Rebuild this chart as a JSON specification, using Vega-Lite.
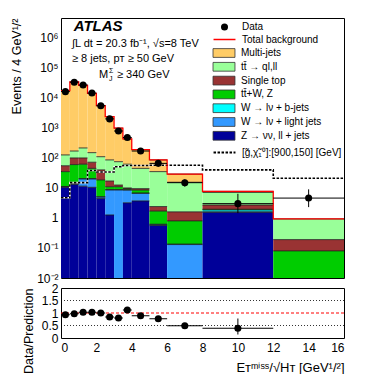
{
  "$schema": "https://vega.github.io/schema/vega-lite/v6.json",
  "padding": {"left": 10, "top": 13, "right": 5, "bottom": 0},
  "config": {
    "font": "Liberation Sans",
    "view": {"stroke": "#000000", "strokeWidth": 1},
    "axis": {"grid": false, "domain": false, "tickColor": "#000000", "labelColor": "#000000", "titleColor": "#000000", "labelFont": "Liberation Sans", "titleFont": "Liberation Sans", "labelFontSize": 12, "titleFontSize": 12.5, "titleFontWeight": "normal", "tickSize": 0, "tickWidth": 1, "labelOverlap": false},
    "legend": {"title": null, "orient": "none", "padding": 0, "labelFont": "Liberation Sans", "labelFontSize": 10, "labelColor": "#000000", "rowPadding": 4, "labelLimit": 200}
  },
  "datasets": {
    "comp": [
      {"bin": 1, "xlo": 0, "xhi": 0.5, "proc": "Z → νν, ll + jets", "ord": 1, "v": 10.5},
      {"bin": 1, "xlo": 0, "xhi": 0.5, "proc": "W → lν + light jets", "ord": 2, "v": 0.5},
      {"bin": 1, "xlo": 0, "xhi": 0.5, "proc": "W → lν + b-jets", "ord": 3, "v": 0.2},
      {"bin": 1, "xlo": 0, "xhi": 0.5, "proc": "tt̄+W, Z", "ord": 4, "v": 23.8},
      {"bin": 1, "xlo": 0, "xhi": 0.5, "proc": "Single top", "ord": 5, "v": 20},
      {"bin": 1, "xlo": 0, "xhi": 0.5, "proc": "tt̄ → ql,ll", "ord": 6, "v": 71},
      {"bin": 1, "xlo": 0, "xhi": 0.5, "proc": "Multi-jets", "ord": 7, "v": 17274},
      {"bin": 2, "xlo": 0.5, "xhi": 1, "proc": "Z → νν, ll + jets", "ord": 1, "v": 13},
      {"bin": 2, "xlo": 0.5, "xhi": 1, "proc": "W → lν + light jets", "ord": 2, "v": 1},
      {"bin": 2, "xlo": 0.5, "xhi": 1, "proc": "W → lν + b-jets", "ord": 3, "v": 0.3},
      {"bin": 2, "xlo": 0.5, "xhi": 1, "proc": "tt̄+W, Z", "ord": 4, "v": 45.7},
      {"bin": 2, "xlo": 0.5, "xhi": 1, "proc": "Single top", "ord": 5, "v": 40},
      {"bin": 2, "xlo": 0.5, "xhi": 1, "proc": "tt̄ → ql,ll", "ord": 6, "v": 70},
      {"bin": 2, "xlo": 0.5, "xhi": 1, "proc": "Multi-jets", "ord": 7, "v": 34230},
      {"bin": 3, "xlo": 1, "xhi": 1.5, "proc": "Z → νν, ll + jets", "ord": 1, "v": 11.5},
      {"bin": 3, "xlo": 1, "xhi": 1.5, "proc": "W → lν + light jets", "ord": 2, "v": 8.5},
      {"bin": 3, "xlo": 1, "xhi": 1.5, "proc": "W → lν + b-jets", "ord": 3, "v": 0.5},
      {"bin": 3, "xlo": 1, "xhi": 1.5, "proc": "tt̄+W, Z", "ord": 4, "v": 41.5},
      {"bin": 3, "xlo": 1, "xhi": 1.5, "proc": "Single top", "ord": 5, "v": 38},
      {"bin": 3, "xlo": 1, "xhi": 1.5, "proc": "tt̄ → ql,ll", "ord": 6, "v": 115},
      {"bin": 3, "xlo": 1, "xhi": 1.5, "proc": "Multi-jets", "ord": 7, "v": 25985},
      {"bin": 4, "xlo": 1.5, "xhi": 2, "proc": "Z → νν, ll + jets", "ord": 1, "v": 10.5},
      {"bin": 4, "xlo": 1.5, "xhi": 2, "proc": "W → lν + light jets", "ord": 2, "v": 9.5},
      {"bin": 4, "xlo": 1.5, "xhi": 2, "proc": "W → lν + b-jets", "ord": 3, "v": 0.5},
      {"bin": 4, "xlo": 1.5, "xhi": 2, "proc": "tt̄+W, Z", "ord": 4, "v": 24.5},
      {"bin": 4, "xlo": 1.5, "xhi": 2, "proc": "Single top", "ord": 5, "v": 27},
      {"bin": 4, "xlo": 1.5, "xhi": 2, "proc": "tt̄ → ql,ll", "ord": 6, "v": 78},
      {"bin": 4, "xlo": 1.5, "xhi": 2, "proc": "Multi-jets", "ord": 7, "v": 13950},
      {"bin": 5, "xlo": 2, "xhi": 2.5, "proc": "Z → νν, ll + jets", "ord": 1, "v": 4.5},
      {"bin": 5, "xlo": 2, "xhi": 2.5, "proc": "W → lν + light jets", "ord": 2, "v": 0.5},
      {"bin": 5, "xlo": 2, "xhi": 2.5, "proc": "W → lν + b-jets", "ord": 3, "v": 0.1},
      {"bin": 5, "xlo": 2, "xhi": 2.5, "proc": "tt̄+W, Z", "ord": 4, "v": 13.4},
      {"bin": 5, "xlo": 2, "xhi": 2.5, "proc": "Single top", "ord": 5, "v": 21.5},
      {"bin": 5, "xlo": 2, "xhi": 2.5, "proc": "tt̄ → ql,ll", "ord": 6, "v": 70},
      {"bin": 5, "xlo": 2, "xhi": 2.5, "proc": "Multi-jets", "ord": 7, "v": 5390},
      {"bin": 6, "xlo": 2.5, "xhi": 3, "proc": "Z → νν, ll + jets", "ord": 1, "v": 1.26},
      {"bin": 6, "xlo": 2.5, "xhi": 3, "proc": "W → lν + light jets", "ord": 2, "v": 7.34},
      {"bin": 6, "xlo": 2.5, "xhi": 3, "proc": "W → lν + b-jets", "ord": 3, "v": 0.2},
      {"bin": 6, "xlo": 2.5, "xhi": 3, "proc": "tt̄+W, Z", "ord": 4, "v": 2.2},
      {"bin": 6, "xlo": 2.5, "xhi": 3, "proc": "Single top", "ord": 5, "v": 6},
      {"bin": 6, "xlo": 2.5, "xhi": 3, "proc": "tt̄ → ql,ll", "ord": 6, "v": 69},
      {"bin": 6, "xlo": 2.5, "xhi": 3, "proc": "Multi-jets", "ord": 7, "v": 2294},
      {"bin": 7, "xlo": 3, "xhi": 3.5, "proc": "W → lν + light jets", "ord": 2, "v": 8.6},
      {"bin": 7, "xlo": 3, "xhi": 3.5, "proc": "W → lν + b-jets", "ord": 3, "v": 0.2},
      {"bin": 7, "xlo": 3, "xhi": 3.5, "proc": "tt̄+W, Z", "ord": 4, "v": 2.2},
      {"bin": 7, "xlo": 3, "xhi": 3.5, "proc": "Single top", "ord": 5, "v": 1.5},
      {"bin": 7, "xlo": 3, "xhi": 3.5, "proc": "tt̄ → ql,ll", "ord": 6, "v": 62.5},
      {"bin": 7, "xlo": 3, "xhi": 3.5, "proc": "Multi-jets", "ord": 7, "v": 915},
      {"bin": 8, "xlo": 3.5, "xhi": 4, "proc": "Z → νν, ll + jets", "ord": 1, "v": 3.2},
      {"bin": 8, "xlo": 3.5, "xhi": 4, "proc": "W → lν + light jets", "ord": 2, "v": 5.3},
      {"bin": 8, "xlo": 3.5, "xhi": 4, "proc": "W → lν + b-jets", "ord": 3, "v": 0.2},
      {"bin": 8, "xlo": 3.5, "xhi": 4, "proc": "tt̄+W, Z", "ord": 4, "v": 0.8},
      {"bin": 8, "xlo": 3.5, "xhi": 4, "proc": "Single top", "ord": 5, "v": 0.5},
      {"bin": 8, "xlo": 3.5, "xhi": 4, "proc": "tt̄ → ql,ll", "ord": 6, "v": 52},
      {"bin": 8, "xlo": 3.5, "xhi": 4, "proc": "Multi-jets", "ord": 7, "v": 368},
      {"bin": 9, "xlo": 4, "xhi": 5, "proc": "Z → νν, ll + jets", "ord": 1, "v": 3.7},
      {"bin": 9, "xlo": 4, "xhi": 5, "proc": "W → lν + light jets", "ord": 2, "v": 2.9},
      {"bin": 9, "xlo": 4, "xhi": 5, "proc": "W → lν + b-jets", "ord": 3, "v": 0.2},
      {"bin": 9, "xlo": 4, "xhi": 5, "proc": "tt̄+W, Z", "ord": 4, "v": 1.7},
      {"bin": 9, "xlo": 4, "xhi": 5, "proc": "Single top", "ord": 5, "v": 1},
      {"bin": 9, "xlo": 4, "xhi": 5, "proc": "tt̄ → ql,ll", "ord": 6, "v": 35.5},
      {"bin": 9, "xlo": 4, "xhi": 5, "proc": "Multi-jets", "ord": 7, "v": 145},
      {"bin": 10, "xlo": 5, "xhi": 6, "proc": "Z → νν, ll + jets", "ord": 1, "v": 0.56},
      {"bin": 10, "xlo": 5, "xhi": 6, "proc": "W → lν + light jets", "ord": 2, "v": 0.04},
      {"bin": 10, "xlo": 5, "xhi": 6, "proc": "W → lν + b-jets", "ord": 3, "v": 0.02},
      {"bin": 10, "xlo": 5, "xhi": 6, "proc": "tt̄+W, Z", "ord": 4, "v": 1.08},
      {"bin": 10, "xlo": 5, "xhi": 6, "proc": "Single top", "ord": 5, "v": 0.7},
      {"bin": 10, "xlo": 5, "xhi": 6, "proc": "tt̄ → ql,ll", "ord": 6, "v": 32.6},
      {"bin": 10, "xlo": 5, "xhi": 6, "proc": "Multi-jets", "ord": 7, "v": 51},
      {"bin": 11, "xlo": 6, "xhi": 8, "proc": "W → lν + light jets", "ord": 2, "v": 0.13},
      {"bin": 11, "xlo": 6, "xhi": 8, "proc": "W → lν + b-jets", "ord": 3, "v": 0.005},
      {"bin": 11, "xlo": 6, "xhi": 8, "proc": "tt̄+W, Z", "ord": 4, "v": 0.665},
      {"bin": 11, "xlo": 6, "xhi": 8, "proc": "Single top", "ord": 5, "v": 0.8},
      {"bin": 11, "xlo": 6, "xhi": 8, "proc": "tt̄ → ql,ll", "ord": 6, "v": 13.9},
      {"bin": 11, "xlo": 6, "xhi": 8, "proc": "Multi-jets", "ord": 7, "v": 13.5},
      {"bin": 12, "xlo": 8, "xhi": 12, "proc": "Z → νν, ll + jets", "ord": 1, "v": 1.55},
      {"bin": 12, "xlo": 8, "xhi": 12, "proc": "W → lν + light jets", "ord": 2, "v": 0.05},
      {"bin": 12, "xlo": 8, "xhi": 12, "proc": "W → lν + b-jets", "ord": 3, "v": 0.25},
      {"bin": 12, "xlo": 8, "xhi": 12, "proc": "tt̄+W, Z", "ord": 4, "v": 0.1},
      {"bin": 12, "xlo": 8, "xhi": 12, "proc": "Single top", "ord": 5, "v": 0.75},
      {"bin": 12, "xlo": 8, "xhi": 12, "proc": "tt̄ → ql,ll", "ord": 6, "v": 4.4},
      {"bin": 12, "xlo": 8, "xhi": 12, "proc": "Multi-jets", "ord": 7, "v": 0.6},
      {"bin": 13, "xlo": 12, "xhi": 16, "proc": "tt̄+W, Z", "ord": 4, "v": 0.08},
      {"bin": 13, "xlo": 12, "xhi": 16, "proc": "Single top", "ord": 5, "v": 0.11},
      {"bin": 13, "xlo": 12, "xhi": 16, "proc": "tt̄ → ql,ll", "ord": 6, "v": 0.74}
    ],
    "edges": [
      {"x": 0, "total": 17400, "sig": 4.7},
      {"x": 0.5, "total": 34400, "sig": 15},
      {"x": 1, "total": 26200, "sig": 15},
      {"x": 1.5, "total": 14100, "sig": 38},
      {"x": 2, "total": 5500, "sig": 34},
      {"x": 2.5, "total": 2380, "sig": 34},
      {"x": 3, "total": 990, "sig": 51},
      {"x": 3.5, "total": 430, "sig": 56},
      {"x": 4, "total": 190, "sig": 56},
      {"x": 5, "total": 86, "sig": 57},
      {"x": 6, "total": 29, "sig": 57},
      {"x": 8, "total": 7.7, "sig": 40},
      {"x": 12, "total": 0.93, "sig": 21},
      {"x": 16, "total": 0.93, "sig": 21}
    ],
    "obs": [
      {"xc": 0.25, "xlo": 0, "xhi": 0.5, "n": 16200, "lo": 16073, "hi": 16327, "r": 0.93, "rlo": 0.92, "rhi": 0.94},
      {"xc": 0.75, "xlo": 0.5, "xhi": 1, "n": 33400, "lo": 33217, "hi": 33583, "r": 0.97, "rlo": 0.96, "rhi": 0.98},
      {"xc": 1.25, "xlo": 1, "xhi": 1.5, "n": 27000, "lo": 26836, "hi": 27164, "r": 1.03, "rlo": 1.02, "rhi": 1.04},
      {"xc": 1.75, "xlo": 1.5, "xhi": 2, "n": 14500, "lo": 14380, "hi": 14620, "r": 1.03, "rlo": 1.02, "rhi": 1.04},
      {"xc": 2.25, "xlo": 2, "xhi": 2.5, "n": 5500, "lo": 5426, "hi": 5574, "r": 1.0, "rlo": 0.98, "rhi": 1.02},
      {"xc": 2.75, "xlo": 2.5, "xhi": 3, "n": 2000, "lo": 1955, "hi": 2045, "r": 0.84, "rlo": 0.82, "rhi": 0.86},
      {"xc": 3.25, "xlo": 3, "xhi": 3.5, "n": 790, "lo": 762, "hi": 818, "r": 0.8, "rlo": 0.77, "rhi": 0.83},
      {"xc": 3.75, "xlo": 3.5, "xhi": 4, "n": 480, "lo": 458, "hi": 502, "r": 1.12, "rlo": 1.07, "rhi": 1.17},
      {"xc": 4.5, "xlo": 4, "xhi": 5, "n": 170, "lo": 157, "hi": 183, "r": 0.89, "rlo": 0.82, "rhi": 0.96},
      {"xc": 5.5, "xlo": 5, "xhi": 6, "n": 66, "lo": 58, "hi": 74, "r": 0.77, "rlo": 0.68, "rhi": 0.86},
      {"xc": 7, "xlo": 6, "xhi": 8, "n": 15, "lo": 11, "hi": 19.5, "r": 0.49, "rlo": 0.4, "rhi": 0.58},
      {"xc": 10, "xlo": 8, "xhi": 12, "n": 3, "lo": 1.45, "hi": 6.4, "r": 0.39, "rlo": 0.14, "rhi": 0.78},
      {"xc": 14, "xlo": 12, "xhi": 16, "n": 4.6, "lo": 2.3, "hi": 9, "r": null, "rlo": null, "rhi": null}
    ]
  },
  "resolve": {"legend": {"fill": "independent", "shape": "independent", "stroke": "independent", "strokeDash": "independent"}},
  "spacing": -4,
  "vconcat": [
    {
      "width": 283,
      "height": 260,
      "resolve": {"axis": {"x": "independent", "y": "independent"}},
      "layer": [
        {
          "data": {"name": "comp"},
          "transform": [{"stack": "v", "groupby": ["bin"], "sort": [{"field": "ord", "order": "ascending"}], "as": ["y0", "y1"]}],
          "mark": {"type": "rect", "clip": true},
          "encoding": {
            "x": {"field": "xlo", "type": "quantitative", "scale": {"domain": [0, 16], "nice": false, "zero": false},
              "axis": {"values": [0,0.5,1,1.5,2,2.5,3,3.5,4,4.5,5,5.5,6,6.5,7,7.5,8,8.5,9,9.5,10,10.5,11,11.5,12,12.5,13,13.5,14,14.5,15,15.5,16], "labels": false, "title": null, "tickSize": 0, "minExtent": 0, "maxExtent": 0,
                "encode": {"ticks": {"update": {"y2": {"signal": "abs(datum.value/2-round(datum.value/2))<0.001 ? -8 : -4"}}}}}},
            "x2": {"field": "xhi"},
            "y": {"field": "y1", "type": "quantitative", "scale": {"type": "log", "domain": [0.01, 4600000], "clamp": true, "nice": false},
              "axis": {"values": [0.01,0.02,0.03,0.04,0.05,0.06,0.07,0.08,0.09,0.1,0.2,0.3,0.4,0.5,0.6,0.7,0.8,0.9,1,2,3,4,5,6,7,8,9,10,20,30,40,50,60,70,80,90,100,200,300,400,500,600,700,800,900,1000,2000,3000,4000,5000,6000,7000,8000,9000,10000,20000,30000,40000,50000,60000,70000,80000,90000,100000,200000,300000,400000,500000,600000,700000,800000,900000,1000000,2000000,3000000,4000000],
                "labelExpr": "abs(log(datum.value)/LN10-round(log(datum.value)/LN10))>0.001 ? '' : ['10⁻²','10⁻¹','1','10','10²','10³','10⁴','10⁵','10⁶'][round(log(datum.value)/LN10)+2]",
                "title": "Events / 4 GeV¹/²", "titleAnchor": "end", "titlePadding": 13, "labelPadding": 3, "tickSize": 0,
                "encode": {"ticks": {"update": {"x2": {"signal": "abs(log(datum.value)/LN10-round(log(datum.value)/LN10))<0.001 ? 8 : 4"}}}}}},
            "y2": {"field": "y0"},
            "fill": {"field": "proc", "type": "nominal",
              "scale": {"domain": ["Multi-jets", "tt̄ → ql,ll", "Single top", "tt̄+W, Z", "W → lν + b-jets", "W → lν + light jets", "Z → νν, ll + jets"],
                "range": ["#ffcc66", "#99ff99", "#993333", "#00cc00", "#00ffff", "#3399ff", "#000099"]},
              "legend": {"legendX": 158, "legendY": 30, "rowPadding": 1.8, "symbolType": "M-2.5,-1H2.5V1H-2.5Z", "symbolSize": 77, "labelOffset": 12, "symbolStrokeColor": "#333333", "symbolStrokeWidth": 0.8}}
          }
        },
        {
          "data": {"name": "comp"},
          "transform": [{"stack": "v", "groupby": ["bin"], "sort": [{"field": "ord", "order": "ascending"}], "as": ["y0", "y1"]}],
          "mark": {"type": "rule", "stroke": "#1a1a1a", "strokeWidth": 0.8, "clip": true},
          "encoding": {
            "x": {"field": "xlo", "type": "quantitative", "axis": null},
            "x2": {"field": "xhi"},
            "y": {"field": "y1", "type": "quantitative", "axis": null}
          }
        },
        {
          "data": {"name": "edges"},
          "mark": {"type": "line", "interpolate": "step-after", "stroke": "#ffffff", "strokeWidth": 1.6, "clip": true},
          "encoding": {
            "x": {"field": "x", "type": "quantitative", "axis": null},
            "y": {"field": "sig", "type": "quantitative", "axis": null}
          }
        },
        {
          "data": {"name": "edges"},
          "mark": {"type": "line", "interpolate": "step-after", "color": "#000000", "stroke": "#000000", "strokeWidth": 1.6, "clip": true},
          "encoding": {
            "x": {"field": "x", "type": "quantitative", "axis": null},
            "y": {"field": "sig", "type": "quantitative", "axis": null},
            "strokeDash": {"datum": "[g̃,χ̃₁⁰]:[900,150] [GeV]", "type": "nominal", "scale": {"range": [[2.5, 1.5]]},
              "legend": {"legendX": 158, "legendY": 129, "symbolType": "M-2.5,0H2.5", "symbolSize": 77, "labelOffset": 12, "symbolStrokeColor": "#000000", "symbolStrokeWidth": 2}}
          }
        },
        {
          "data": {"name": "edges"},
          "mark": {"type": "line", "interpolate": "step-after", "strokeWidth": 1.3, "clip": true},
          "encoding": {
            "x": {"field": "x", "type": "quantitative",
              "axis": {"orient": "top", "values": [0,0.5,1,1.5,2,2.5,3,3.5,4,4.5,5,5.5,6,6.5,7,7.5,8,8.5,9,9.5,10,10.5,11,11.5,12,12.5,13,13.5,14,14.5,15,15.5,16], "labels": false, "title": null, "tickSize": 0,
                "encode": {"ticks": {"update": {"y2": {"signal": "abs(datum.value/2-round(datum.value/2))<0.001 ? 8 : 4"}}}}}},
            "y": {"field": "total", "type": "quantitative",
              "axis": {"orient": "right", "values": [0.01,0.02,0.03,0.04,0.05,0.06,0.07,0.08,0.09,0.1,0.2,0.3,0.4,0.5,0.6,0.7,0.8,0.9,1,2,3,4,5,6,7,8,9,10,20,30,40,50,60,70,80,90,100,200,300,400,500,600,700,800,900,1000,2000,3000,4000,5000,6000,7000,8000,9000,10000,20000,30000,40000,50000,60000,70000,80000,90000,100000,200000,300000,400000,500000,600000,700000,800000,900000,1000000,2000000,3000000,4000000],
                "labels": false, "title": null, "tickSize": 0,
                "encode": {"ticks": {"update": {"x2": {"signal": "abs(log(datum.value)/LN10-round(log(datum.value)/LN10))<0.001 ? -8 : -4"}}}}}},
            "stroke": {"datum": "Total background", "type": "nominal", "scale": {"range": ["#ff0000"]},
              "legend": {"legendX": 158, "legendY": 16, "symbolType": "M-2.5,0H2.5", "symbolSize": 77, "labelOffset": 12, "symbolStrokeWidth": 1.5}}
          }
        },
        {
          "data": {"name": "obs"},
          "mark": {"type": "rule", "stroke": "#000000", "strokeWidth": 1},
          "encoding": {
            "x": {"field": "xlo", "type": "quantitative", "axis": null},
            "x2": {"field": "xhi"},
            "y": {"field": "n", "type": "quantitative", "axis": null}
          }
        },
        {
          "data": {"name": "obs"},
          "mark": {"type": "rule", "stroke": "#000000", "strokeWidth": 1},
          "encoding": {
            "x": {"field": "xc", "type": "quantitative", "axis": null},
            "y": {"field": "lo", "type": "quantitative", "axis": null},
            "y2": {"field": "hi"}
          }
        },
        {
          "data": {"name": "obs"},
          "mark": {"type": "point", "filled": true, "color": "#000000", "fill": "#000000", "opacity": 1, "size": 50},
          "encoding": {
            "x": {"field": "xc", "type": "quantitative", "axis": null},
            "y": {"field": "n", "type": "quantitative", "axis": null},
            "shape": {"datum": "Data", "type": "nominal", "scale": {"range": ["circle"]},
              "legend": {"legendX": 158.5, "legendY": 4, "symbolSize": 49, "labelOffset": 12.5, "symbolFillColor": "#000000", "symbolStrokeColor": "#000000"}}
          }
        },
        {
          "data": {"values": [{}]},
          "mark": {"type": "text", "text": "ATLAS", "font": "Liberation Sans", "fontSize": 15, "fontWeight": "bold", "fontStyle": "italic", "align": "left", "baseline": "middle", "color": "#000000"},
          "encoding": {"x": {"datum": 0.72, "type": "quantitative", "axis": null}, "y": {"datum": 2500000, "type": "quantitative", "axis": null}}
        },
        {
          "data": {"values": [{}]},
          "mark": {"type": "text", "text": "∫L dt = 20.3 fb⁻¹, √s=8 TeV", "font": "Liberation Sans", "fontSize": 11, "align": "left", "baseline": "middle", "color": "#000000"},
          "encoding": {"x": {"datum": 0.62, "type": "quantitative", "axis": null}, "y": {"datum": 650000, "type": "quantitative", "axis": null}}
        },
        {
          "data": {"values": [{}]},
          "mark": {"type": "text", "text": "≥ 8 jets, pᴛ ≥ 50 GeV", "font": "Liberation Sans", "fontSize": 11, "align": "left", "baseline": "middle", "color": "#000000"},
          "encoding": {"x": {"datum": 0.62, "type": "quantitative", "axis": null}, "y": {"datum": 200000, "type": "quantitative", "axis": null}}
        },
        {
          "data": {"values": [{}]},
          "mark": {"type": "text", "text": "M", "font": "Liberation Sans", "fontSize": 11, "align": "left", "baseline": "middle", "color": "#000000"},
          "encoding": {"x": {"datum": 2.15, "type": "quantitative", "axis": null}, "y": {"datum": 58000, "type": "quantitative", "axis": null}}
        },
        {
          "data": {"values": [{}]},
          "mark": {"type": "text", "text": "Σ", "font": "Liberation Sans", "fontSize": 7, "align": "left", "baseline": "middle", "dx": 10, "dy": -4, "color": "#000000"},
          "encoding": {"x": {"datum": 2.15, "type": "quantitative", "axis": null}, "y": {"datum": 58000, "type": "quantitative", "axis": null}}
        },
        {
          "data": {"values": [{}]},
          "mark": {"type": "text", "text": "J", "font": "Liberation Sans", "fontSize": 7, "align": "left", "baseline": "middle", "dx": 10, "dy": 4, "color": "#000000"},
          "encoding": {"x": {"datum": 2.15, "type": "quantitative", "axis": null}, "y": {"datum": 58000, "type": "quantitative", "axis": null}}
        },
        {
          "data": {"values": [{}]},
          "mark": {"type": "text", "text": "≥ 340 GeV", "font": "Liberation Sans", "fontSize": 11, "align": "left", "baseline": "middle", "dx": 18, "color": "#000000"},
          "encoding": {"x": {"datum": 2.15, "type": "quantitative", "axis": null}, "y": {"datum": 58000, "type": "quantitative", "axis": null}}
        }
      ]
    },
    {
      "width": 283,
      "height": 50,
      "resolve": {"axis": {"x": "independent", "y": "independent"}},
      "layer": [
        {
          "data": {"values": [{}]},
          "mark": {"type": "rule", "stroke": "#000000", "strokeWidth": 0.8, "strokeDash": [1, 2]},
          "encoding": {"y": {"datum": 0.5, "type": "quantitative", "axis": null}}
        },
        {
          "data": {"values": [{}]},
          "mark": {"type": "rule", "stroke": "#000000", "strokeWidth": 0.8, "strokeDash": [1, 2]},
          "encoding": {"y": {"datum": 1.5, "type": "quantitative", "axis": null}}
        },
        {
          "data": {"values": [{}]},
          "mark": {"type": "rule", "stroke": "#ff0000", "strokeWidth": 1.2, "strokeDash": [3, 2]},
          "encoding": {"y": {"datum": 1, "type": "quantitative", "axis": null}}
        },
        {
          "data": {"name": "obs"},
          "transform": [{"filter": "datum.r != null"}],
          "mark": {"type": "rule", "stroke": "#000000", "strokeWidth": 1},
          "encoding": {
            "x": {"field": "xlo", "type": "quantitative",
              "axis": {"orient": "top", "values": [0,0.5,1,1.5,2,2.5,3,3.5,4,4.5,5,5.5,6,6.5,7,7.5,8,8.5,9,9.5,10,10.5,11,11.5,12,12.5,13,13.5,14,14.5,15,15.5,16], "labels": false, "title": null, "tickSize": 0, "minExtent": 0, "maxExtent": 0,
                "encode": {"ticks": {"update": {"y2": {"signal": "abs(datum.value/2-round(datum.value/2))<0.001 ? 6 : 3"}}}}}},
            "x2": {"field": "xhi"},
            "y": {"field": "r", "type": "quantitative",
              "axis": {"orient": "right", "values": [0,0.1,0.2,0.3,0.4,0.5,0.6,0.7,0.8,0.9,1,1.1,1.2,1.3,1.4,1.5,1.6,1.7,1.8,1.9,2], "labels": false, "title": null, "tickSize": 0,
                "encode": {"ticks": {"update": {"x2": {"signal": "abs(datum.value*2-round(datum.value*2))<0.001 ? -6 : -3"}}}}}}
          }
        },
        {
          "data": {"name": "obs"},
          "transform": [{"filter": "datum.r != null"}],
          "mark": {"type": "rule", "stroke": "#000000", "strokeWidth": 1},
          "encoding": {
            "x": {"field": "xc", "type": "quantitative", "axis": null},
            "y": {"field": "rlo", "type": "quantitative", "axis": null},
            "y2": {"field": "rhi"}
          }
        },
        {
          "data": {"name": "obs"},
          "transform": [{"filter": "datum.r != null"}],
          "mark": {"type": "point", "shape": "circle", "filled": true, "fill": "#000000", "opacity": 1, "size": 50},
          "encoding": {
            "x": {"field": "xc", "type": "quantitative", "scale": {"domain": [0, 16], "nice": false, "zero": false},
              "axis": {"values": [0,0.5,1,1.5,2,2.5,3,3.5,4,4.5,5,5.5,6,6.5,7,7.5,8,8.5,9,9.5,10,10.5,11,11.5,12,12.5,13,13.5,14,14.5,15,15.5,16],
                "labelExpr": "abs(datum.value/2-round(datum.value/2))<0.001 ? format(datum.value,'d') : ''",
                "title": "Eᴛᵐⁱˢˢ/√Hᴛ [GeV¹/²]", "titleAnchor": "end", "titleFontSize": 13, "labelPadding": 4, "titlePadding": 8, "tickSize": 0,
                "encode": {"ticks": {"update": {"y2": {"signal": "abs(datum.value/2-round(datum.value/2))<0.001 ? -6 : -3"}}}}}},
            "y": {"field": "r", "type": "quantitative", "scale": {"domain": [0, 2], "nice": false, "zero": false},
              "axis": {"values": [0,0.1,0.2,0.3,0.4,0.5,0.6,0.7,0.8,0.9,1,1.1,1.2,1.3,1.4,1.5,1.6,1.7,1.8,1.9,2],
                "labelExpr": "abs(datum.value*2-round(datum.value*2))<0.001 ? format(datum.value,'') : ''",
                "title": "Data/Prediction", "titleAnchor": "end", "titlePadding": 6, "labelPadding": 3, "tickSize": 0,
                "encode": {"ticks": {"update": {"x2": {"signal": "abs(datum.value*2-round(datum.value*2))<0.001 ? 6 : 3"}}}}}}
          }
        }
      ]
    }
  ]
}
